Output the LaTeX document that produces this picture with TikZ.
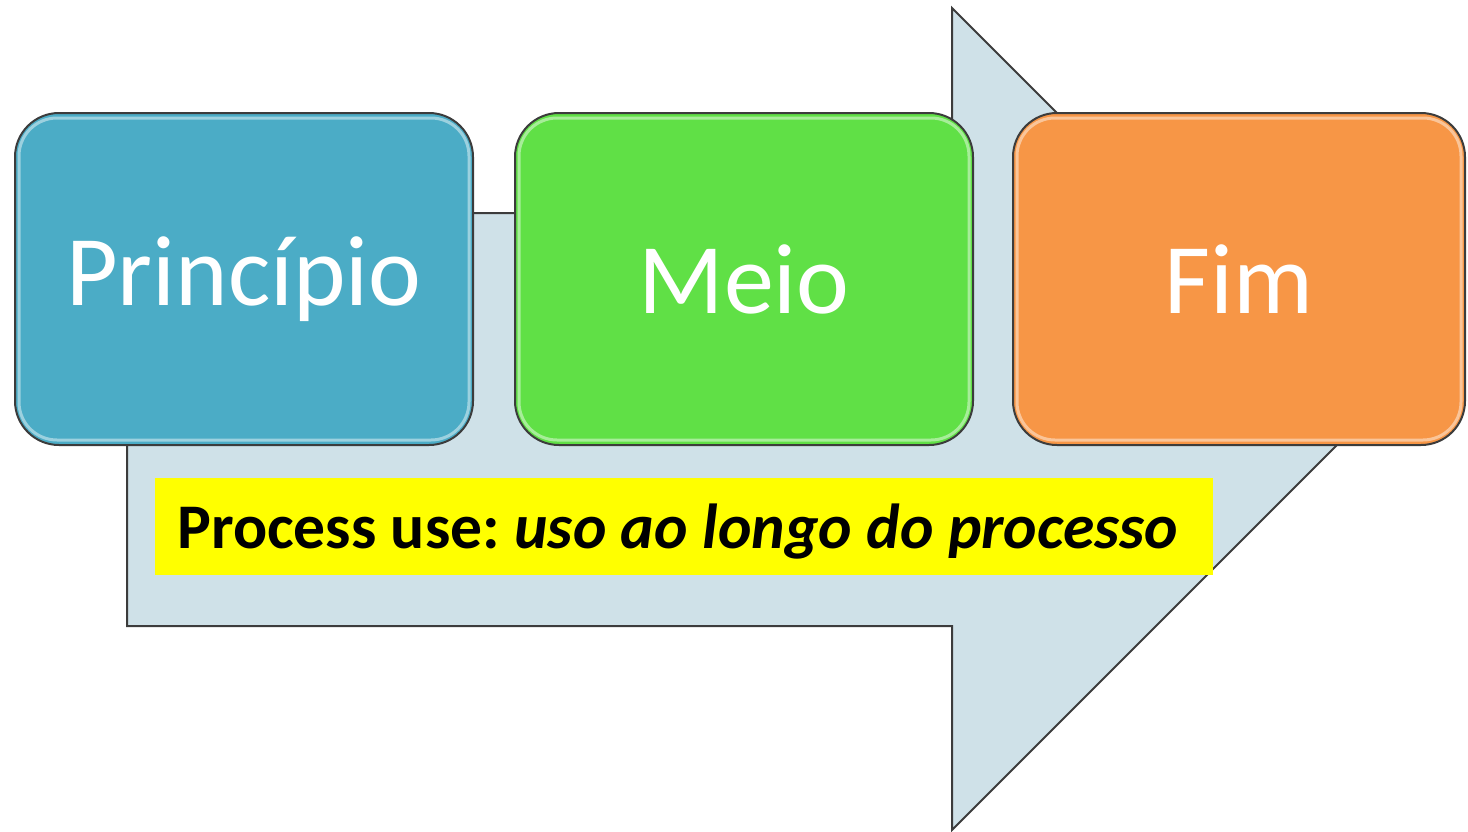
\documentclass[tikz,border=0pt]{standalone}
\usepackage{fontspec}
\setmainfont{Carlito}
\definecolor{arrowfill}{HTML}{CFE1E8}
\definecolor{edgegray}{HTML}{3C3C3C}
\definecolor{stepblue}{HTML}{4BACC6}
\definecolor{stepgreen}{HTML}{60E046}
\definecolor{steporange}{HTML}{F79646}
\definecolor{marker}{RGB}{255,255,0}
\tikzset{
  stage/.style={draw=edgegray, line width=1pt, rounded corners=22pt,
    minimum height=166pt, text=white, font=\fontsize{50}{60}\selectfont,
    inner sep=0pt},
  gloss/.style={draw=white, draw opacity=0.45, line width=1.5pt, rounded corners=19pt},
  band/.style={fill=marker, inner sep=0pt, minimum width=529pt, minimum height=48.5pt},
  bandtext/.style={text=black, font=\bfseries\fontsize{31.8}{38}\selectfont, inner sep=0pt},
}
\begin{document}
\begin{tikzpicture}[x=0.5pt, y=-0.5pt]
  \useasboundingbox (0,0) rectangle (1468,831);
  % block arrow in the background
  \coordinate (s1) at (127,213);
  \coordinate (s2) at (952,213);
  \coordinate (h1) at (952,8);
  \coordinate (tip) at (1363,419);
  \coordinate (h2) at (952,830);
  \coordinate (s3) at (952,626);
  \coordinate (s4) at (127,626);
  \draw[edgegray, fill=arrowfill, line width=1pt, line join=miter]
    (s1) -- (s2) -- (h1) -- (tip) -- (h2) -- (s3) -- (s4) -- cycle;
  % the three stages
  \node[stage, fill=stepblue, minimum width=229pt] (inicio) at (244,279) {Princípio};
  \node[stage, fill=stepgreen, minimum width=229pt] (meio) at (744,279) {Meio};
  \node[stage, fill=steporange, minimum width=226pt] (fim) at (1239,279) {Fim};
  \foreach \n in {inicio,meio,fim}{
    \draw[gloss] ([shift={(5,-6)}]\n.south west) rectangle ([shift={(-5,6)}]\n.north east);
  }
  % caption band
  \node[band, anchor=north west] (uso) at (155,478) {};
  \node[bandtext, anchor=base west] (usotxt) at (177,548)
    {Process use:\ \textit{uso ao longo do processo}};
\end{tikzpicture}
\end{document}
